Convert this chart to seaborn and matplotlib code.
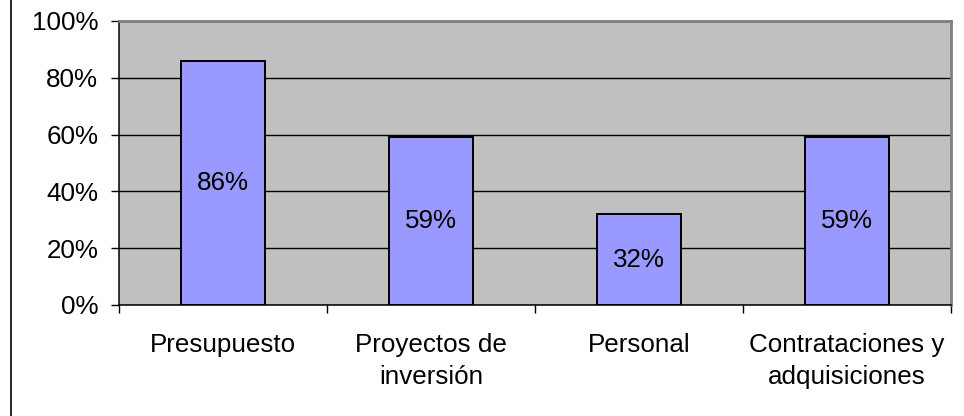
import matplotlib
matplotlib.use("Agg")
import matplotlib.pyplot as plt
import seaborn as sns
from matplotlib.ticker import FixedLocator, PercentFormatter
from matplotlib.lines import Line2D

# data
categorias = ["Presupuesto", "Proyectos de\ninversión", "Personal",
              "Contrataciones y\nadquisiciones"]
porcentajes = [86, 59, 32, 59]
etiquetas = ["86%", "59%", "32%", "59%"]

sns.set_style("white", {"axes.facecolor": "#C0C0C0"})
plt.rcParams["font.family"] = ["Liberation Sans", "DejaVu Sans"]
plt.rcParams["text.color"] = "black"
plt.rcParams["xtick.color"] = "black"
plt.rcParams["ytick.color"] = "black"

fig = plt.figure(figsize=(9.64, 4.16), dpi=100)
ax = fig.add_axes([119 / 964, 1 - 305 / 416, 832 / 964, 284 / 416])

sns.barplot(x=categorias, y=porcentajes, color="#9999FF", saturation=1,
            edgecolor="black", linewidth=1.4, width=0.405, ax=ax, zorder=3)
ax.bar_label(ax.containers[0], labels=etiquetas, label_type="center",
             fontsize=18.7, color="black")

ax.set_ylim(0, 100)
ax.set_xlim(-0.5, 3.5)
ax.set_yticks([0, 20, 40, 60, 80, 100])
ax.yaxis.set_major_formatter(PercentFormatter(decimals=0))
ax.grid(axis="y", color="black", linewidth=1.0, zorder=1)
ax.set_axisbelow(True)

# ticks at category boundaries, labels centred under bars
ax.xaxis.set_major_locator(FixedLocator([-0.5, 0.5, 1.5, 2.5, 3.5]))
ax.xaxis.set_minor_locator(FixedLocator([0, 1, 2, 3]))
ax.set_xticklabels([])
ax.set_xticklabels(categorias, minor=True, linespacing=1.42)
ax.tick_params(axis="x", which="major", direction="out", length=6,
               width=1, color="black", bottom=True)
ax.tick_params(axis="x", which="minor", length=0, pad=20, labelsize=18.7,
               labelcolor="black")
ax.tick_params(axis="y", direction="out", length=6, width=1, color="black",
               left=True, pad=9, labelsize=18.7, labelcolor="black")
ax.set_xlabel("")
ax.set_ylabel("")

for s in ["left", "bottom"]:
    ax.spines[s].set_color("black")
    ax.spines[s].set_linewidth(1.1)
for s in ["top", "right"]:
    ax.spines[s].set_color("#808080")
    ax.spines[s].set_linewidth(2)

# outer chart border on the left
fig.add_artist(Line2D([10.5 / 964, 10.5 / 964], [0, 1], color="black",
                      linewidth=1.2, transform=fig.transFigure))

fig.savefig("out.png", dpi=100, facecolor="white")
